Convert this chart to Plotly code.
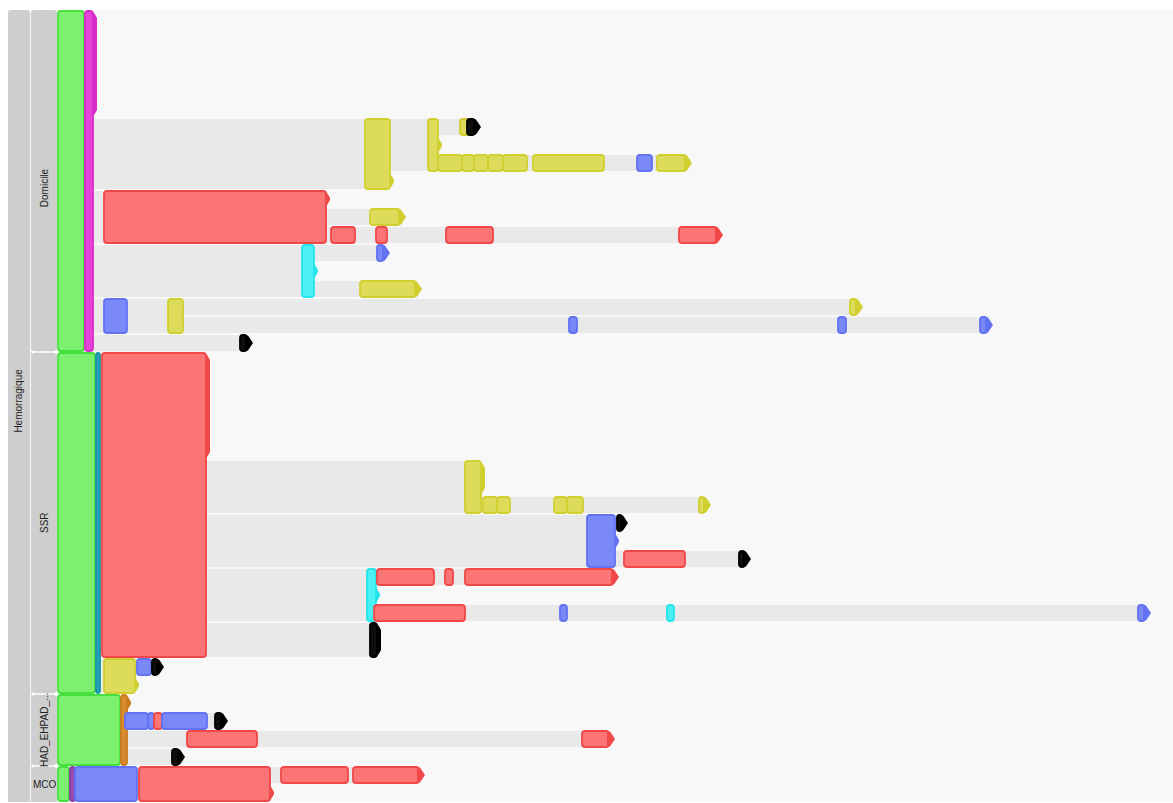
import plotly.graph_objects as go

# ---------------------------------------------------------------------------
# Sequence tree of care pathways after a haemorrhagic stroke.
# Rows are patient trajectories; a node spanning several rows is a prefix
# shared by those trajectories. Times are in days after the index stay.
# ---------------------------------------------------------------------------
root_label = "Hemorragique"
group_names = ["Domicile", "SSR", "HAD_EHPAD_...", "MCO"]
group_rows = [19, 19, 4, 2]

# node table (parallel lists): first row, rows spanned, parent node, start, end, care type
node_row = [
    # Domicile
    0, 0, 6, 6, 6, 6, 8, 8, 8, 8, 8, 8, 8, 8,
    10, 11, 12, 12, 12, 12, 13, 13, 15, 16, 16, 16, 17, 17, 17, 18,
    # SSR
    19, 19, 19, 25, 27, 27, 27, 27, 27, 28, 28, 30, 30,
    31, 31, 31, 31, 33, 33, 33, 33, 34, 36, 36, 36,
    # HAD_EHPAD
    38, 38, 39, 39, 39, 39, 39, 40, 40, 41,
    # MCO
    42, 42, 42, 42, 42, 42,
]
node_span = [
    19, 19, 4, 3, 1, 1, 1, 1, 1, 1, 1, 1, 1, 1,
    3, 1, 1, 1, 1, 1, 3, 1, 1, 2, 2, 1, 1, 1, 1, 1,
    19, 19, 17, 3, 1, 1, 1, 1, 1, 3, 1, 1, 1,
    3, 1, 1, 1, 1, 1, 1, 1, 2, 2, 1, 1,
    4, 4, 1, 1, 1, 1, 1, 1, 1, 1,
    2, 2, 2, 2, 1, 1,
]
node_parent = [
    -1, 0, 1, 2, 3, 4, 3, 6, 7, 8, 9, 10, 11, 12,
    1, 14, 14, 16, 17, 18, 1, 20, 20, 1, 23, 24, 24, 26, 27, 1,
    -1, 30, 31, 32, 33, 34, 35, 36, 37, 32, 39, 39, 41,
    32, 43, 44, 45, 43, 47, 48, 49, 32, 31, 52, 53,
    -1, 55, 56, 57, 58, 59, 60, 56, 62, 56,
    -1, 65, 66, 67, 68, 69,
]
node_start = [
    0, 27, 307, 370, 402, 409, 380, 404, 416, 430, 445, 475, 579, 599,
    46, 312, 273, 318, 388, 621, 244, 319, 302, 46, 110, 792, 511, 780, 922, 182,
    0, 38, 44, 407, 425, 439, 496, 509, 641, 529, 559, 566, 681,
    309, 319, 387, 407, 316, 502, 609, 1080, 312, 46, 79, 94,
    0, 63, 67, 90, 96, 104, 157, 129, 524, 114,
    0, 12, 17, 81, 223, 295,
]
node_end = [
    26, 35, 332, 380, 412, 417, 404, 416, 430, 445, 469, 546, 594, 628,
    268, 342, 297, 329, 435, 659, 256, 326, 358, 69, 125, 799, 519, 788, 929, 189,
    37, 42, 148, 423, 439, 452, 509, 525, 647, 557, 564, 627, 687,
    318, 376, 395, 555, 407, 509, 616, 1087, 319, 77, 93, 100,
    62, 69, 90, 96, 104, 149, 164, 199, 551, 121,
    11, 17, 79, 212, 290, 361,
]
node_kind = [
    "G", "M", "Y", "Y", "Y", "K", "Y", "Y", "Y", "Y", "Y", "Y", "B", "Y",
    "R", "Y", "R", "R", "R", "R", "C", "B", "Y", "B", "Y", "Y", "B", "B", "B", "K",
    "G", "T", "R", "Y", "Y", "Y", "Y", "Y", "Y", "B", "K", "R", "K",
    "C", "R", "R", "R", "R", "B", "C", "B", "K", "Y", "B", "K",
    "G", "O", "B", "B", "R", "B", "K", "R", "R", "K",
    "G", "P", "B", "R", "R", "R",
]

kind_fill = {"G": "#7ef070", "M": "#e445d6", "T": "#22a4b6", "O": "#da8a2e",
             "P": "#9a4eb4", "R": "#fc7575", "Y": "#dcdc5a", "B": "#7b88f8",
             "C": "#4af0f2", "K": "#0e0e0e"}
kind_edge = {"G": "#46e03e", "M": "#d82cc8", "T": "#1a93a6", "O": "#cc7a1e",
             "P": "#8a3ea4", "R": "#f04848", "Y": "#cfcf30", "B": "#6172f2",
             "C": "#26e4ec", "K": "#000000"}

ROW_PX = 18.0
n_rows = sum(group_rows)
PAD = 1.0 / ROW_PX          # one-pixel gap between rows
RX, RY = 3.0, 3.0 / ROW_PX  # corner radius (x in days, y in rows)


def rounded_rect(x0, x1, y0, y1, rx=RX, ry=RY):
    rx = min(rx, (x1 - x0) / 2)
    ry = min(ry, (y1 - y0) / 2)
    return (f"M{x0 + rx},{y0} L{x1 - rx},{y0} Q{x1},{y0} {x1},{y0 + ry} "
            f"L{x1},{y1 - ry} Q{x1},{y1} {x1 - rx},{y1} L{x0 + rx},{y1} "
            f"Q{x0},{y1} {x0},{y1 - ry} L{x0},{y0 + ry} Q{x0},{y0} {x0 + rx},{y0} Z")


def end_tip(x, ra, rb, single):
    """Arrow tip closing rows ra..rb (inclusive) at time x."""
    if single:
        y0, y1 = ra + PAD * 1.5, rb + 1 - PAD * 1.5
        return (f"M{x - 2},{y0} L{x + 1},{y0} L{x + 6},{(y0 + y1) / 2} "
                f"L{x + 1},{y1} L{x - 2},{y1} Z")
    y0, y1 = ra + 0.15, rb + 1 - 0.15
    bev = 0.3
    return (f"M{x - 1},{y0} L{x + 1},{y0} L{x + 4},{y0 + bev} "
            f"L{x + 4},{y1 - bev} L{x + 1},{y1} L{x - 1},{y1} Z")


n_nodes = len(node_row)

# rows of each node that are continued by a child node
covered = [set() for _ in range(n_nodes)]
for i in range(n_nodes):
    p = node_parent[i]
    if p >= 0:
        covered[p].update(range(node_row[i], node_row[i] + node_span[i]))
terminal_rows = [[r for r in range(node_row[i], node_row[i] + node_span[i])
                  if r not in covered[i]] for i in range(n_nodes)]


def runs(rows):
    out = []
    for r in rows:
        if out and r == out[-1][1] + 1:
            out[-1][1] = r
        else:
            out.append([r, r])
    return out


gray_shapes, node_shapes, end_shapes = [], [], []
for i in range(n_nodes):
    r0 = node_row[i]
    r1 = r0 + node_span[i]
    k = node_kind[i]
    p = node_parent[i]
    # waiting time between the previous stay and this one
    if p >= 0 and node_start[i] - node_end[p] > 0.5:
        gray_shapes.append(dict(
            type="path", xref="x", yref="y", layer="above",
            path=rounded_rect(node_end[p], node_start[i], r0 + PAD, r1 - PAD, 1, 1 / ROW_PX),
            fillcolor="#e9e9e9", line=dict(width=0)))
    node_shapes.append(dict(
        type="path", xref="x", yref="y", layer="above",
        path=rounded_rect(node_start[i], node_end[i], r0 + PAD, r1 - PAD),
        fillcolor=kind_fill[k], line=dict(color=kind_edge[k], width=1.8)))
    # end of follow-up marker for trajectories stopping at this node
    for ra, rb in runs(terminal_rows[i]):
        end_shapes.append(dict(
            type="path", xref="x", yref="y", layer="above",
            path=end_tip(node_end[i], ra, rb, node_span[i] == 1),
            fillcolor=kind_edge[k], line=dict(width=0)))

# hierarchy label columns on the left
label_shapes, annotations = [], []
LVL1 = (-50, -28)
LVL2 = (-27, -1)
label_shapes.append(dict(
    type="path", xref="x", yref="y", layer="below",
    path=rounded_rect(LVL1[0], LVL1[1], 0, n_rows + 1, 3, 3 / ROW_PX),
    fillcolor="#cecece", line=dict(width=0)))
annotations.append(dict(
    x=(LVL1[0] + LVL1[1]) / 2, y=n_rows / 2 - 0.3, xref="x", yref="y", text=root_label,
    textangle=-90, showarrow=False, font=dict(size=10, color="#222222")))

row_cursor = 0
for gi, (name, nr) in enumerate(zip(group_names, group_rows)):
    top, bot = row_cursor, row_cursor + nr
    label_shapes.append(dict(
        type="path", xref="x", yref="y", layer="below",
        path=rounded_rect(LVL2[0], LVL2[1], top, bot + (1 if gi == len(group_rows) - 1 else 0),
                          3 if gi == 0 else 0.01, 3 / ROW_PX if gi == 0 else 0.001),
        fillcolor="#cecece", line=dict(width=0)))
    short = nr * ROW_PX < 60
    annotations.append(dict(
        x=(LVL2[0] + LVL2[1]) / 2 + (1 if short else 0),
        y=(top + bot) / 2 + (0.4 if gi == 0 else 0),
        xref="x", yref="y", text=name,
        textangle=0 if short else -90, showarrow=False,
        font=dict(size=10, color="#222222")))
    if gi > 0:
        # group boundary handle
        label_shapes.append(dict(type="line", xref="x", yref="y", layer="above",
                                 x0=LVL2[0] + 2, x1=LVL2[1], y0=top, y1=top,
                                 line=dict(color="#ffffff", width=1.5)))
        for cx, rad in ((LVL2[0] + 2, 1.6), (LVL2[1], 2.4)):
            label_shapes.append(dict(type="circle", xref="x", yref="y", layer="above",
                                     x0=cx - rad, x1=cx + rad,
                                     y0=top - rad / ROW_PX, y1=top + rad / ROW_PX,
                                     fillcolor="#ffffff", line=dict(width=0)))
    row_cursor = bot

# invisible hover targets at the centre of every node
hover = go.Scatter(
    x=[(s + e) / 2 for s, e in zip(node_start, node_end)],
    y=[r + s / 2 for r, s in zip(node_row, node_span)],
    mode="markers", marker=dict(size=8, opacity=0),
    text=[f"{k}: J{s} → J{e}" for k, s, e in zip(node_kind, node_start, node_end)],
    hoverinfo="text", showlegend=False)

fig = go.Figure(hover)
fig.update_layout(
    width=1173, height=803,
    margin=dict(l=8, r=0, t=10, b=1),
    paper_bgcolor="#ffffff", plot_bgcolor="#f8f8f8",
    shapes=label_shapes + gray_shapes + node_shapes + end_shapes,
    annotations=annotations,
    font=dict(family="Liberation Sans, Arial, sans-serif"),
    xaxis=dict(range=[-50, 1115], visible=False, fixedrange=True),
    yaxis=dict(range=[n_rows, 0], visible=False, fixedrange=True),
    showlegend=False,
)
fig.write_html("out.html")
